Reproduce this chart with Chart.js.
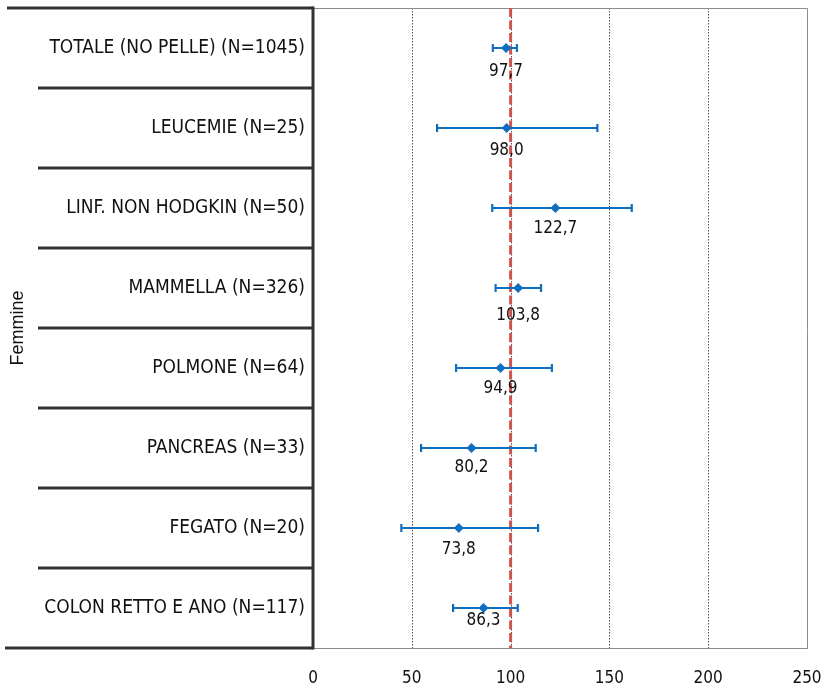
<!DOCTYPE html>
<html>
<head>
<meta charset="utf-8">
<script src="https://cdn.jsdelivr.net/npm/chart.js@4/dist/chart.umd.min.js"></script>
<style>
html,body{margin:0;padding:0;background:#fff;}
canvas{display:block;}
</style>
</head>
<body>
<canvas id="c" width="825" height="691"></canvas>
<script>
// ---- data ----
const categories = [
  "TOTALE (NO PELLE) (N=1045)",
  "LEUCEMIE (N=25)",
  "LINF. NON HODGKIN (N=50)",
  "MAMMELLA (N=326)",
  "POLMONE (N=64)",
  "PANCREAS (N=33)",
  "FEGATO (N=20)",
  "COLON RETTO E ANO (N=117)"
];
const estimates = [97.7, 98.0, 122.7, 103.8, 94.9, 80.2, 73.8, 86.3];
const lowerCI   = [91.0, 62.8, 90.7, 92.4, 72.4, 54.7, 44.7, 70.9];
const upperCI   = [103.2, 143.9, 161.3, 115.4, 120.9, 112.7, 113.9, 103.6];
const xTicks    = [0, 50, 100, 150, 200, 250];
const referenceValue = 100;
const axisTitle = "Femmine";

const BLUE = "#0E6EC0";
const FONT = "'DejaVu Sans Condensed', 'DejaVu Sans', sans-serif";

const fmt = v => v.toFixed(1).replace('.', ',');

const forestPlugin = {
  id: 'forest',
  beforeDatasetsDraw(chart, args, opts) {
    const {ctx, chartArea, scales: {x, y}} = chart;
    ctx.save();
    // dotted gridlines
    ctx.strokeStyle = '#222';
    ctx.lineWidth = 0.8;
    ctx.setLineDash([1.5, 1.5]);
    xTicks.forEach(t => {
      if (t === 0 || t === xTicks[xTicks.length - 1]) return;
      const px = Math.round(x.getPixelForValue(t)) + 0.5;
      ctx.beginPath(); ctx.moveTo(px, chartArea.top); ctx.lineTo(px, chartArea.bottom); ctx.stroke();
    });
    ctx.setLineDash([]);
    // frame (top, right)
    ctx.strokeStyle = '#8c8c8c';
    ctx.lineWidth = 1;
    ctx.beginPath();
    ctx.moveTo(chartArea.left, chartArea.top + 0.5);
    ctx.lineTo(chartArea.right + 0.5, chartArea.top + 0.5);
    ctx.lineTo(chartArea.right + 0.5, chartArea.bottom);
    ctx.stroke();
    // reference line
    const rx = x.getPixelForValue(referenceValue);
    ctx.strokeStyle = '#CF5450';
    ctx.lineWidth = 3;
    ctx.setLineDash([9, 3.5]);
    ctx.beginPath(); ctx.moveTo(rx, chartArea.top); ctx.lineTo(rx, chartArea.bottom); ctx.stroke();
    ctx.setLineDash([]);
    // error bars
    ctx.strokeStyle = BLUE;
    ctx.lineWidth = 2.2;
    categories.forEach((c, i) => {
      const py = y.getPixelForValue(i);
      const x1 = x.getPixelForValue(lowerCI[i]);
      const x2 = x.getPixelForValue(upperCI[i]);
      ctx.beginPath();
      ctx.moveTo(x1, py); ctx.lineTo(x2, py);
      ctx.moveTo(x1, py - 4); ctx.lineTo(x1, py + 4);
      ctx.moveTo(x2, py - 4); ctx.lineTo(x2, py + 4);
      ctx.stroke();
    });
    ctx.restore();
  },
  afterDatasetsDraw(chart, args, opts) {
    const {ctx, chartArea, scales: {x, y}} = chart;
    ctx.save();
    // data labels
    ctx.fillStyle = '#111';
    ctx.font = '17px ' + FONT;
    ctx.textAlign = 'center';
    ctx.textBaseline = 'middle';
    categories.forEach((c, i) => {
      const py = y.getPixelForValue(i);
      const px = x.getPixelForValue(estimates[i]);
      ctx.fillText(fmt(estimates[i]), px, py + opts.labelDy[i]);
    });
    // row separators in label area
    ctx.strokeStyle = '#333';
    ctx.lineWidth = 3;
    const step = (chartArea.bottom - chartArea.top) / categories.length;
    for (let i = 0; i <= categories.length; i++) {
      const py = chartArea.top + i * step;
      const startX = i === 0 ? opts.topStart : (i === categories.length ? opts.bottomStart : opts.innerStart);
      ctx.beginPath(); ctx.moveTo(startX, py); ctx.lineTo(chartArea.left, py); ctx.stroke();
    }
    // thick vertical axis line
    ctx.beginPath(); ctx.moveTo(chartArea.left, chartArea.top - 1.5); ctx.lineTo(chartArea.left, chartArea.bottom + 1.5); ctx.stroke();
    ctx.restore();
  }
};

new Chart(document.getElementById('c'), {
  type: 'scatter',
  data: {
    labels: categories,
    datasets: [{
      data: estimates.map((v, i) => ({x: v, y: categories[i]})),
      pointStyle: 'rectRot',
      pointRadius: 5,
      pointHoverRadius: 5,
      backgroundColor: BLUE,
      borderColor: BLUE,
      borderWidth: 0
    }]
  },
  options: {
    responsive: false,
    animation: false,
    events: [],
    layout: {padding: {left: 0, right: 18, top: 8, bottom: 0}},
    plugins: {
      legend: {display: false},
      tooltip: {enabled: false},
      forest: {
        labelDy: [24, 23, 21, 28, 21, 20, 22, 13],
        topStart: 7, innerStart: 38, bottomStart: 5
      }
    },
    scales: {
      x: {
        type: 'linear',
        min: 0, max: 250,
        afterBuildTicks: s => { s.ticks = xTicks.map(v => ({value: v})); },
        grid: {display: false, drawTicks: false},
        border: {display: true, color: '#8c8c8c', width: 1},
        ticks: {color: '#111', font: {family: FONT, size: 17}, padding: 20},
        afterFit: s => { s.height = 43; s.paddingLeft = 0; s.paddingRight = 0; }
      },
      y: {
        type: 'category',
        labels: categories,
        offset: true,
        grid: {display: false, drawTicks: false},
        border: {display: false},
        ticks: {color: '#111', font: {family: FONT, size: 19}, padding: 8},
        title: {display: true, text: axisTitle, color: '#111', font: {family: "'Liberation Sans', Arial, sans-serif", size: 18}, padding: {top: 7, bottom: 0}},
        afterFit: s => { s.width = 313; s.paddingTop = 0; s.paddingBottom = 0; }
      }
    }
  },
  plugins: [forestPlugin]
});
</script>
</body>
</html>
